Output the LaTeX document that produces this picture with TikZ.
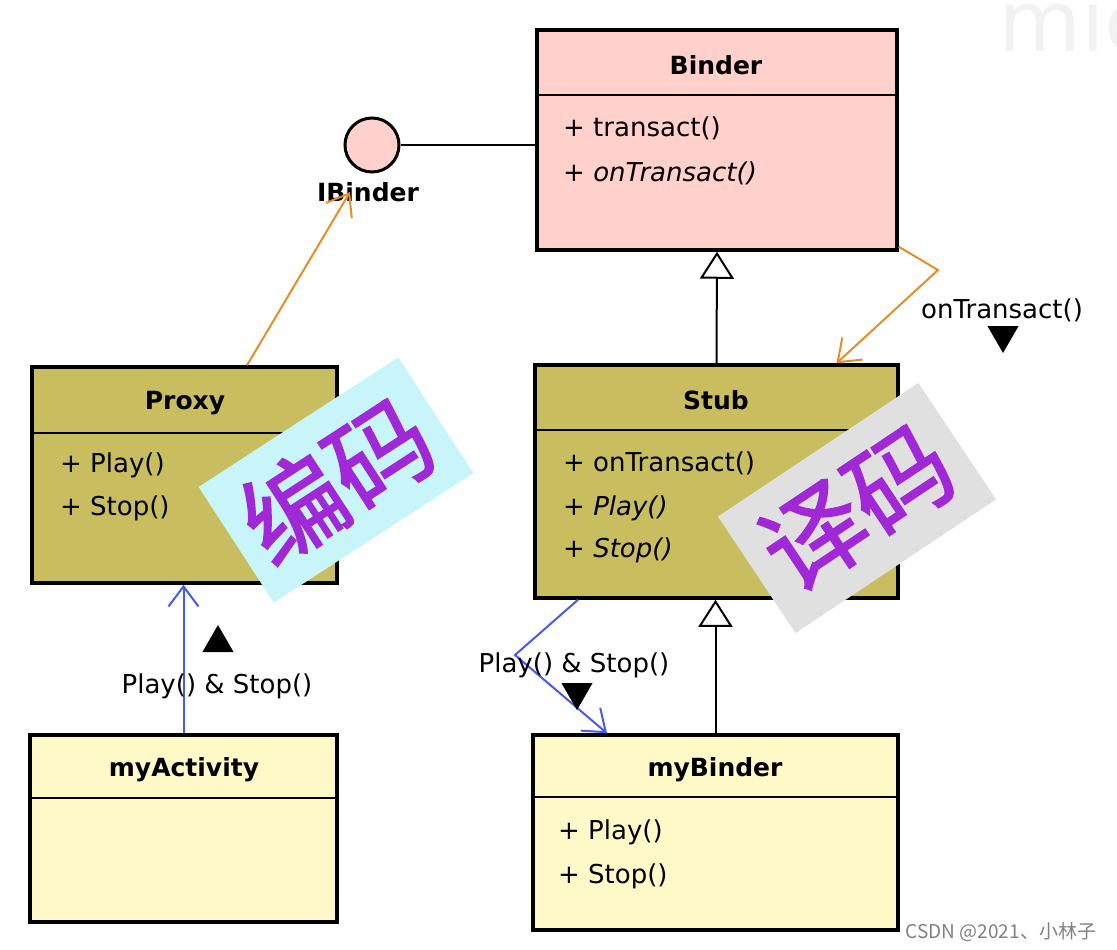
\documentclass[tikz,border=0pt]{standalone}
\usepackage{fontspec}
\setmainfont{DejaVu Sans}
\newfontfamily\cjk{Noto Sans CJK SC}
\newfontfamily\cjkstamp[FakeBold=1.6]{Noto Sans CJK SC}
\usetikzlibrary{arrows.meta,shapes.geometric}
\definecolor{binderpink}{RGB}{255,208,204}
\definecolor{stubolive}{RGB}{200,190,96}
\definecolor{userpale}{RGB}{255,249,200}
\definecolor{callorange}{RGB}{230,140,40}
\definecolor{callblue}{RGB}{70,90,240}
\definecolor{stickerpurple}{RGB}{160,40,215}
\definecolor{stickercyan}{RGB}{200,245,250}
\definecolor{stickergrey}{RGB}{224,224,224}

\begin{document}
\begin{tikzpicture}[x=1pt,y=-1pt]
  \tikzset{classbox/.style = {draw, line width=3.5pt, inner sep=0pt}}
  \tikzset{classname/.style = {font=\fontsize{25}{30}\selectfont\bfseries, inner sep=0pt}}
  \tikzset{member/.style = {font=\fontsize{26}{30}\selectfont, anchor=west, inner sep=0pt}}
  \tikzset{msg/.style = {font=\fontsize{26}{30}\selectfont, inner sep=0pt}}
  \tikzset{inherit/.style = {line width=2pt, -{Triangle[length=27pt, width=34pt, fill=white]}}}
  \tikzset{call/.style = {line width=2pt, -{Straight Barb[length=20pt, width=30pt]}}}
  \tikzset{dirmark/.style = {regular polygon, regular polygon sides=3, fill=black, minimum size=36pt, inner sep=0pt}}
  \tikzset{sticker/.style = {minimum width=238pt, minimum height=138pt, inner sep=0pt, text=stickerpurple, font=\cjkstamp\fontsize{102}{104}\selectfont}}

\useasboundingbox (0,0) rectangle (1117,950);

% watermark
\node[text=gray!10, font=\fontsize{85}{85}\selectfont, anchor=base west, inner sep=0pt] (wmark) at (998,52) {mic};

% classes
\node[classbox, fill=binderpink, minimum width=360pt, minimum height=220pt] (binder) at (717,140) {};
\draw[line width=2pt] (537,95) -- (897,95);
\node[classname] (bindername) at (716,65) {Binder};
\node[member] (bindertr) at (563,128) {+ transact()};
\node[member] (binderon) at (563,173) {+ \itshape onTransact()};

\node[circle, draw, line width=3pt, fill=binderpink, minimum size=54pt, inner sep=0pt] (ibinder) at (372,145) {};
\node[classname] (ibinderlbl) at (368,192) {IBinder};

\node[classbox, fill=stubolive, minimum width=305pt, minimum height=216pt] (proxy) at (184.5,475) {};
\draw[line width=2pt] (32,433) -- (337,433);
\node[classname] (proxyname) at (185,403) {Proxy};
\node[member] (proxyplay) at (60,465) {+ Play()};
\node[member] (proxystop) at (60,508) {+ Stop()};

\node[classbox, fill=stubolive, minimum width=363pt, minimum height=233pt] (stub) at (716.5,481.5) {};
\draw[line width=2pt] (535,430) -- (898,430);
\node[classname] (stubname) at (716,400) {Stub};
\node[member] (stubon) at (563,463) {+ onTransact()};
\node[member] (stubplay) at (563,508) {+ \itshape Play()};
\node[member] (stubstop) at (563,550) {+ \itshape Stop()};

\node[classbox, fill=userpale, minimum width=307pt, minimum height=187pt] (myactivity) at (183.5,828.5) {};
\draw[line width=2pt] (30,798) -- (337,798);
\node[classname] (myactivityname) at (184,770) {myActivity};

\node[classbox, fill=userpale, minimum width=365pt, minimum height=195pt] (mybinder) at (715.5,832.5) {};
\draw[line width=2pt] (533,797) -- (898,797);
\node[classname] (mybindername) at (715,770) {myBinder};
\node[member] (mybinderplay) at (558,832) {+ Play()};
\node[member] (mybinderstop) at (558,876) {+ Stop()};

% connectors
\draw[line width=2pt] (ibinder) -- (ibinder -| binder.west);
\draw[inherit] (stub.north) -- (binder.south);
\draw[inherit] (mybinder.north) -- (mybinder.north |- stub.south);

\coordinate (bend1) at (938,270);
\coordinate (bend2) at (515,655);
\draw[call, callorange] ([xshift=62.5pt]proxy.north) -- ([xshift=-18pt]ibinderlbl.center);
\draw[call, callorange] ([yshift=5pt]binder.south east) -- (bend1) -- ([xshift=120pt]stub.north);
\draw[call, callblue] (myactivity.north) -- (myactivity.north |- proxy.south);
\draw[call, callblue] ([xshift=-138.5pt]stub.south) -- (bend2) -- ([xshift=-108.5pt]mybinder.north);

% messages
\node[msg] (ontrlbl) at (1002,310) {onTransact()};
\node[dirmark, shape border rotate=180] (ontrmark) at (1003,335) {};
\node[msg] (calllbl) at (217,686) {Play() \& Stop()};
\node[dirmark] (callmark) at (218,643) {};
\node[msg] (playlbl) at (574,665) {Play() \& Stop()};
\node[dirmark, shape border rotate=180] (playmark) at (577,692) {};

% stickers
\node[sticker, fill=stickercyan, rotate=33] (encode) at (336,480) {编码};
\node[sticker, fill=stickergrey, rotate=33.7, minimum width=241pt, minimum height=140pt] (decode) at (857,508) {译码};

\node[text=gray, font=\cjk\fontsize{19}{22}\selectfont, inner sep=0pt] (credit) at (1001,932) {CSDN @2021、小林子};
\end{tikzpicture}
\end{document}
